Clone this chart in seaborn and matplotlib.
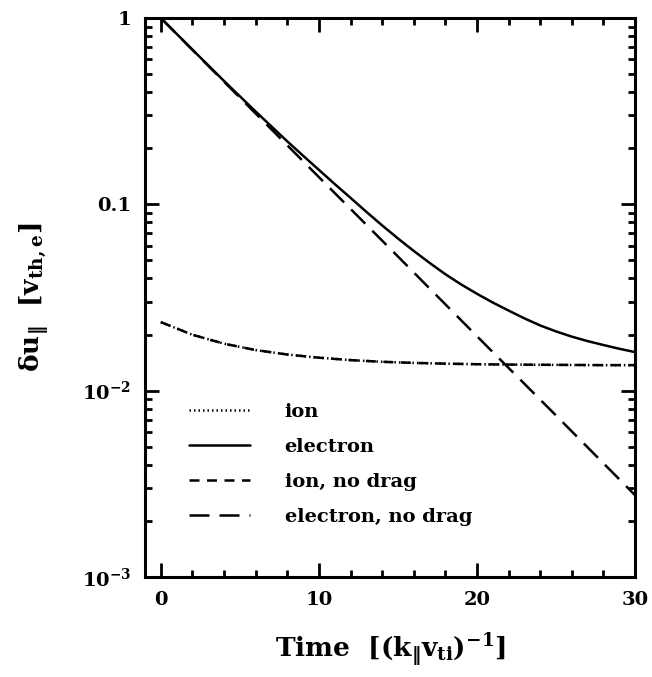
import numpy as np
import pandas as pd
import matplotlib
matplotlib.use("Agg")
import matplotlib.pyplot as plt
import seaborn as sns
from matplotlib.ticker import LogLocator, MultipleLocator, NullFormatter

# ---- data ----
time = list(range(0, 31))
electron_log = [0.0, -0.085, -0.170, -0.254, -0.338, -0.420, -0.502, -0.582,
                -0.662, -0.739, -0.815, -0.891, -0.965, -1.040, -1.113, -1.183,
                -1.250, -1.314, -1.375, -1.430, -1.480, -1.527, -1.570, -1.612,
                -1.650, -1.682, -1.710, -1.734, -1.755, -1.775, -1.793]
time_ion = [0, 2, 4, 6, 8, 10, 12, 14, 16, 18, 20, 22, 24, 26, 28, 30]
ion_log = [-1.632, -1.700, -1.748, -1.782, -1.806, -1.823, -1.836, -1.845,
           -1.851, -1.855, -1.858, -1.860, -1.861, -1.862, -1.863, -1.863]
ion_nodrag_log = [-1.632, -1.700, -1.748, -1.782, -1.806, -1.823, -1.836, -1.845,
                  -1.851, -1.855, -1.858, -1.860, -1.861, -1.862, -1.863, -1.863]
time_nd = [0, 5, 10, 15, 20, 25, 30]
electron_nodrag = [1.0, 0.374, 0.140, 0.0525, 0.0196, 0.00736, 0.00275]

labels = ["ion", "electron", "ion, no drag", "electron, no drag"]
ytick_vals = [1e-3, 1e-2, 0.1, 1]
ytick_labels = [r"10$^{\mathbf{-3}}$", r"10$^{\mathbf{-2}}$", "0.1", "1"]
xtick_vals = [0, 10, 20, 30]

sns.set_style("ticks")
plt.rcParams["font.family"] = ["DejaVu Serif"]
plt.rcParams["font.weight"] = "bold"
plt.rcParams["mathtext.fontset"] = "dejavuserif"
plt.rcParams["mathtext.default"] = "bf"
plt.rcParams["text.color"] = "black"
plt.rcParams["axes.labelcolor"] = "black"
plt.rcParams["xtick.color"] = "black"
plt.rcParams["ytick.color"] = "black"
plt.rcParams["axes.edgecolor"] = "black"

fig = plt.figure(figsize=(6.52, 6.77), dpi=100)
ax = fig.add_axes([0.2224, 0.1477, 0.974 - 0.2224, 0.9734 - 0.1477])

lw = 1.8
sns.lineplot(x=np.array(time_ion), y=10 ** np.array(ion_log), ax=ax, color="black",
             lw=lw, linestyle=(0, (0.6, 1.2)), label=labels[0])
sns.lineplot(x=np.array(time), y=10 ** np.array(electron_log), ax=ax, color="black",
             lw=lw, linestyle="-", label=labels[1])
sns.lineplot(x=np.array(time_ion), y=10 ** np.array(ion_nodrag_log), ax=ax,
             color="black", lw=lw, linestyle=(0, (4, 3)), label=labels[2])
sns.lineplot(x=np.array(time_nd), y=np.array(electron_nodrag), ax=ax, color="black",
             lw=lw, linestyle=(0, (8, 4)), label=labels[3])

ax.set_yscale("log")
ax.set_xlim(-1, 30)
ax.set_ylim(1e-3, 1)
ax.set_yticks(ytick_vals)
ax.set_yticklabels(ytick_labels)
ax.yaxis.set_minor_locator(LogLocator(base=10, subs=np.arange(2, 10)))
ax.yaxis.set_minor_formatter(NullFormatter())
ax.set_xticks(xtick_vals)
ax.xaxis.set_minor_locator(MultipleLocator(2))

for s in ax.spines.values():
    s.set_linewidth(2.2)
    s.set_visible(True)
    s.set_color("black")
ax.tick_params(which="both", direction="in", top=True, right=True, width=2.0)
ax.tick_params(which="major", length=10, labelsize=14, pad=10)
ax.tick_params(which="minor", length=5)
for lab in ax.get_xticklabels() + ax.get_yticklabels():
    lab.set_fontweight("bold")

ax.set_xlabel(r"Time  $[(\mathbf{k_{\|}v_{ti}})^{\mathbf{-1}}]$", fontsize=19,
              fontweight="bold", labelpad=16)
ax.set_ylabel(r"$\mathbf{\delta u_{\|}}$  $[\mathbf{v_{th,e}}]$", fontsize=19,
              fontweight="bold", labelpad=22)

leg = ax.legend(loc="lower left", bbox_to_anchor=(0.055, 0.06), frameon=False,
                fontsize=14, handlelength=3.1, handletextpad=1.8, labelspacing=0.87)
for txt in leg.get_texts():
    txt.set_fontweight("bold")
    txt.set_color("black")

fig.savefig("out.png", dpi=100)
